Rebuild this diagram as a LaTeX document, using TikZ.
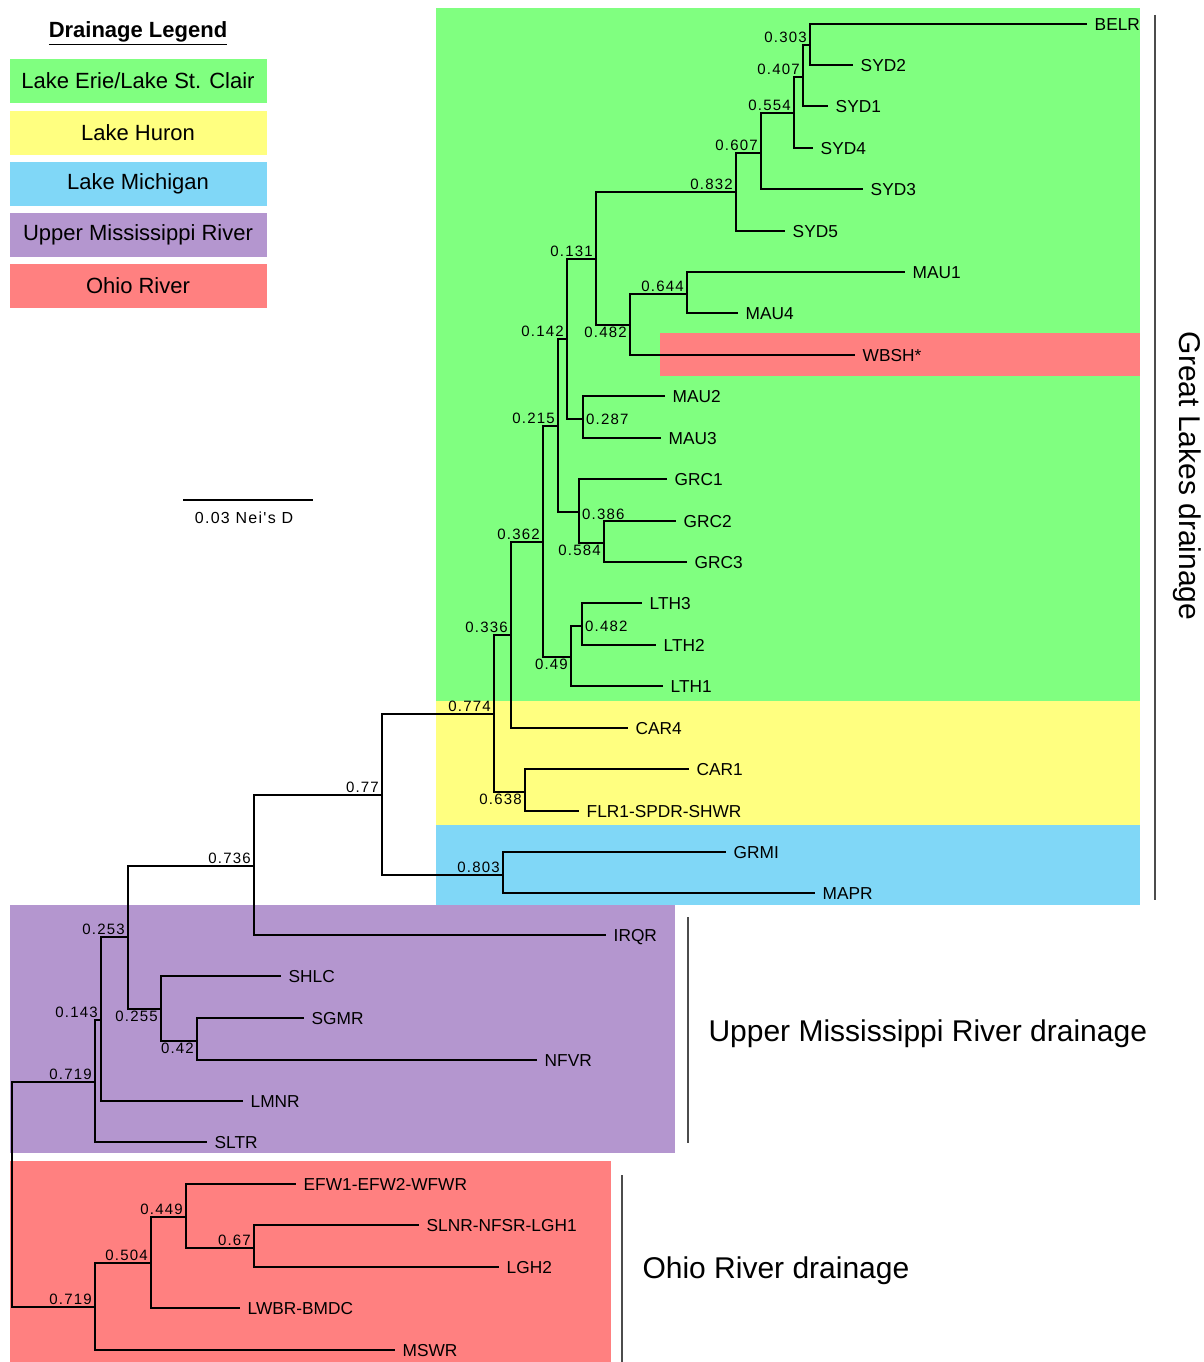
\documentclass[tikz,border=0pt]{standalone}
\usepackage{fontspec}
\setmainfont{Liberation Sans}
\newfontfamily\numfont[LetterSpace=8]{Liberation Sans}
\usetikzlibrary{positioning}
\definecolor{qerie}{RGB}{128,255,128}
\definecolor{qhuron}{RGB}{255,255,128}
\definecolor{qmich}{RGB}{128,215,247}
\definecolor{qmiss}{RGB}{180,150,207}
\definecolor{qohio}{RGB}{255,128,128}

\tikzset{
  branch/.style={line width=1.2pt},
  leaf/.style={anchor=west, inner xsep=7.5pt, inner ysep=0pt, text height=12.5pt, text depth=0pt,
    font=\fontsize{17.3}{19}\selectfont},
  boot/.style={inner xsep=3pt, inner ysep=2pt, font=\numfont\fontsize{15}{17}\selectfont},
  legbox/.style={minimum width=257pt, minimum height=44pt, inner sep=0pt,
    font=\fontsize{22}{24}\selectfont},
  side/.style={font=\fontsize{30}{32}\selectfont},
  sidebar/.style={line width=1.3pt, color=black!70}
}

\begin{document}
\begin{tikzpicture}[x=1pt, y=-1pt]
\useasboundingbox (0,0) rectangle (1203,1362);

% drainage backgrounds
\fill[qerie] (436,8) rectangle (1140,701);
\fill[qohio] (660,333) rectangle (1140,376);
\fill[qhuron] (436,701) rectangle (1140,825);
\fill[qmich] (436,825) rectangle (1140,905);
\fill[qmiss] (10,905) rectangle (675,1153);
\fill[qohio] (10,1161) rectangle (611,1362);

% legend
\node[font=\bfseries\fontsize{22}{24}\selectfont] (legtitle) at (138,33) {\underline{Drainage Legend}};
\node[legbox, fill=qerie] (legerie) at (138,81) {Lake Erie/Lake St. Clair};
\node[legbox, fill=qhuron] (leghuron) at (138,133) {Lake Huron};
\node[legbox, fill=qmich] (legmich) at (138,184) {Lake Michigan};
\node[legbox, fill=qmiss] (legmiss) at (138,235) {Upper Mississippi River};
\node[legbox, fill=qohio] (legohio) at (138,286) {Ohio River};

% scale bar
\coordinate (sbl) at (183,500);
\coordinate (sbr) at (313,500);
\draw[branch] (sbl) -- (sbr);
\node[font=\numfont\fontsize{16}{18}\selectfont] (sblab) at (244,518) {0.03 Nei's D};

% internal nodes
\coordinate (a303) at (810,45);
\coordinate (a407) at (803,77);
\coordinate (a554) at (794,113);
\coordinate (a607) at (761,153);
\coordinate (a832) at (736,192);
\coordinate (a644) at (687,294);
\coordinate (a482) at (630,325);
\coordinate (a131) at (596,259);
\coordinate (a287) at (583,419);
\coordinate (a142) at (567,339);
\coordinate (a584) at (604,543);
\coordinate (a386) at (579,512);
\coordinate (a215) at (558,426);
\coordinate (l482) at (582,626);
\coordinate (a49) at (571,657);
\coordinate (a362) at (543,542);
\coordinate (a336) at (511,635);
\coordinate (a638) at (525,792);
\coordinate (a774) at (494,714);
\coordinate (a803) at (503,875);
\coordinate (a77) at (382,795);
\coordinate (a736) at (254,866);
\coordinate (a42) at (197,1041);
\coordinate (a255) at (161,1009);
\coordinate (a253) at (128,937);
\coordinate (a143) at (101,1020);
\coordinate (a719) at (95,1082);
\coordinate (o67) at (254,1248);
\coordinate (o449) at (186,1217);
\coordinate (o504) at (151,1263);
\coordinate (o719) at (95,1307);
\coordinate (root) at (12,1195);

% leaves
\node[leaf] (belr) at (1087,24) {BELR};
\node[leaf] (syd2) at (853,65) {SYD2};
\node[leaf] (syd1) at (828,106) {SYD1};
\node[leaf] (syd4) at (813,148) {SYD4};
\node[leaf] (syd3) at (863,189) {SYD3};
\node[leaf] (syd5) at (785,231) {SYD5};
\node[leaf] (mau1) at (905,272) {MAU1};
\node[leaf] (mau4) at (738,313) {MAU4};
\node[leaf] (wbsh) at (855,355) {WBSH*};
\node[leaf] (mau2) at (665,396) {MAU2};
\node[leaf] (mau3) at (661,438) {MAU3};
\node[leaf] (grc1) at (667,479) {GRC1};
\node[leaf] (grc2) at (676,521) {GRC2};
\node[leaf] (grc3) at (687,562) {GRC3};
\node[leaf] (lth3) at (642,603) {LTH3};
\node[leaf] (lth2) at (656,645) {LTH2};
\node[leaf] (lth1) at (663,686) {LTH1};
\node[leaf] (car4) at (628,728) {CAR4};
\node[leaf] (car1) at (689,769) {CAR1};
\node[leaf] (flr) at (579,811) {FLR1-SPDR-SHWR};
\node[leaf] (grmi) at (726,852) {GRMI};
\node[leaf] (mapr) at (815,893) {MAPR};
\node[leaf] (irqr) at (606,935) {IRQR};
\node[leaf] (shlc) at (281,976) {SHLC};
\node[leaf] (sgmr) at (304,1018) {SGMR};
\node[leaf] (nfvr) at (537,1060) {NFVR};
\node[leaf] (lmnr) at (243,1101) {LMNR};
\node[leaf] (sltr) at (207,1142) {SLTR};
\node[leaf] (efw) at (296,1184) {EFW1-EFW2-WFWR};
\node[leaf] (slnr) at (419,1225) {SLNR-NFSR-LGH1};
\node[leaf] (lgh2) at (499,1267) {LGH2};
\node[leaf] (lwbr) at (240,1308) {LWBR-BMDC};
\node[leaf] (mswr) at (395,1350) {MSWR};

% branches, Great Lakes
\draw[branch] (a303) |- (belr.west) (a303) |- (syd2.west);
\draw[branch] (a407) |- (a303) (a407) |- (syd1.west);
\draw[branch] (a554) |- (a407) (a554) |- (syd4.west);
\draw[branch] (a607) |- (a554) (a607) |- (syd3.west);
\draw[branch] (a832) |- (a607) (a832) |- (syd5.west);
\draw[branch] (a644) |- (mau1.west) (a644) |- (mau4.west);
\draw[branch] (a482) |- (a644) (a482) |- (wbsh.west);
\draw[branch] (a131) |- (a832) (a131) |- (a482);
\draw[branch] (a287) |- (mau2.west) (a287) |- (mau3.west);
\draw[branch] (a142) |- (a131) (a142) |- (a287);
\draw[branch] (a584) |- (grc2.west) (a584) |- (grc3.west);
\draw[branch] (a386) |- (grc1.west) (a386) |- (a584);
\draw[branch] (a215) |- (a142) (a215) |- (a386);
\draw[branch] (l482) |- (lth3.west) (l482) |- (lth2.west);
\draw[branch] (a49) |- (l482) (a49) |- (lth1.west);
\draw[branch] (a362) |- (a215) (a362) |- (a49);
\draw[branch] (a336) |- (a362) (a336) |- (car4.west);
\draw[branch] (a638) |- (car1.west) (a638) |- (flr.west);
\draw[branch] (a774) |- (a336) (a774) |- (a638);
\draw[branch] (a803) |- (grmi.west) (a803) |- (mapr.west);
\draw[branch] (a77) |- (a774) (a77) |- (a803);
% branches, Mississippi
\draw[branch] (a736) |- (a77) (a736) |- (irqr.west);
\draw[branch] (a42) |- (sgmr.west) (a42) |- (nfvr.west);
\draw[branch] (a255) |- (shlc.west) (a255) |- (a42);
\draw[branch] (a253) |- (a736) (a253) |- (a255);
\draw[branch] (a143) |- (a253) (a143) |- (lmnr.west);
\draw[branch] (a719) |- (a143) (a719) |- (sltr.west);
% branches, Ohio
\draw[branch] (o67) |- (slnr.west) (o67) |- (lgh2.west);
\draw[branch] (o449) |- (efw.west) (o449) |- (o67);
\draw[branch] (o504) |- (o449) (o504) |- (lwbr.west);
\draw[branch] (o719) |- (o504) (o719) |- (mswr.west);
\draw[branch] (root) |- (a719) (root) |- (o719);

% bootstrap values
\node[boot, anchor=south east] (b303) at (a303) {0.303};
\node[boot, anchor=south east] (b407) at (a407) {0.407};
\node[boot, anchor=south east] (b554) at (a554) {0.554};
\node[boot, anchor=south east] (b607) at (a607) {0.607};
\node[boot, anchor=south east] (b832) at (a832) {0.832};
\node[boot, anchor=south east] (b644) at (a644) {0.644};
\node[boot, anchor=north east] (b482) at (a482) {0.482};
\node[boot, anchor=south east] (b131) at (a131) {0.131};
\node[boot, anchor=west] (b287) at (a287) {0.287};
\node[boot, anchor=south east] (b142) at (a142) {0.142};
\node[boot, anchor=north east] (b584) at (a584) {0.584};
\node[boot, anchor=west, yshift=-2pt] (b386) at (a386) {0.386};
\node[boot, anchor=south east] (b215) at (a215) {0.215};
\node[boot, anchor=west] (bl482) at (l482) {0.482};
\node[boot, anchor=north east] (b49) at (a49) {0.49};
\node[boot, anchor=south east] (b362) at (a362) {0.362};
\node[boot, anchor=south east] (b336) at (a336) {0.336};
\node[boot, anchor=north east] (b638) at (a638) {0.638};
\node[boot, anchor=south east] (b774) at (a774) {0.774};
\node[boot, anchor=south east] (b803) at (a803) {0.803};
\node[boot, anchor=south east] (b77) at (a77) {0.77};
\node[boot, anchor=south east] (b736) at (a736) {0.736};
\node[boot, anchor=north east] (b42) at (a42) {0.42};
\node[boot, anchor=north east] (b255) at (a255) {0.255};
\node[boot, anchor=south east] (b253) at (a253) {0.253};
\node[boot, anchor=south east] (b143) at (a143) {0.143};
\node[boot, anchor=south east] (b719) at (a719) {0.719};
\node[boot, anchor=south east] (c67) at (o67) {0.67};
\node[boot, anchor=south east] (c449) at (o449) {0.449};
\node[boot, anchor=south east] (c504) at (o504) {0.504};
\node[boot, anchor=south east] (c719) at (o719) {0.719};

% drainage brackets
\draw[sidebar] (1155,15) -- (1155,900);
\node[side, rotate=-90] (greatlakes) at (1187,476) {Great Lakes drainage};
\draw[sidebar] (688,917) -- (688,1143);
\node[side, anchor=west] (uppermiss) at (705,1034) {Upper Mississippi River drainage};
\draw[sidebar] (622,1175) -- (622,1362);
\node[side, anchor=west] (ohiodr) at (639,1271) {Ohio River drainage};

\end{tikzpicture}
\end{document}
